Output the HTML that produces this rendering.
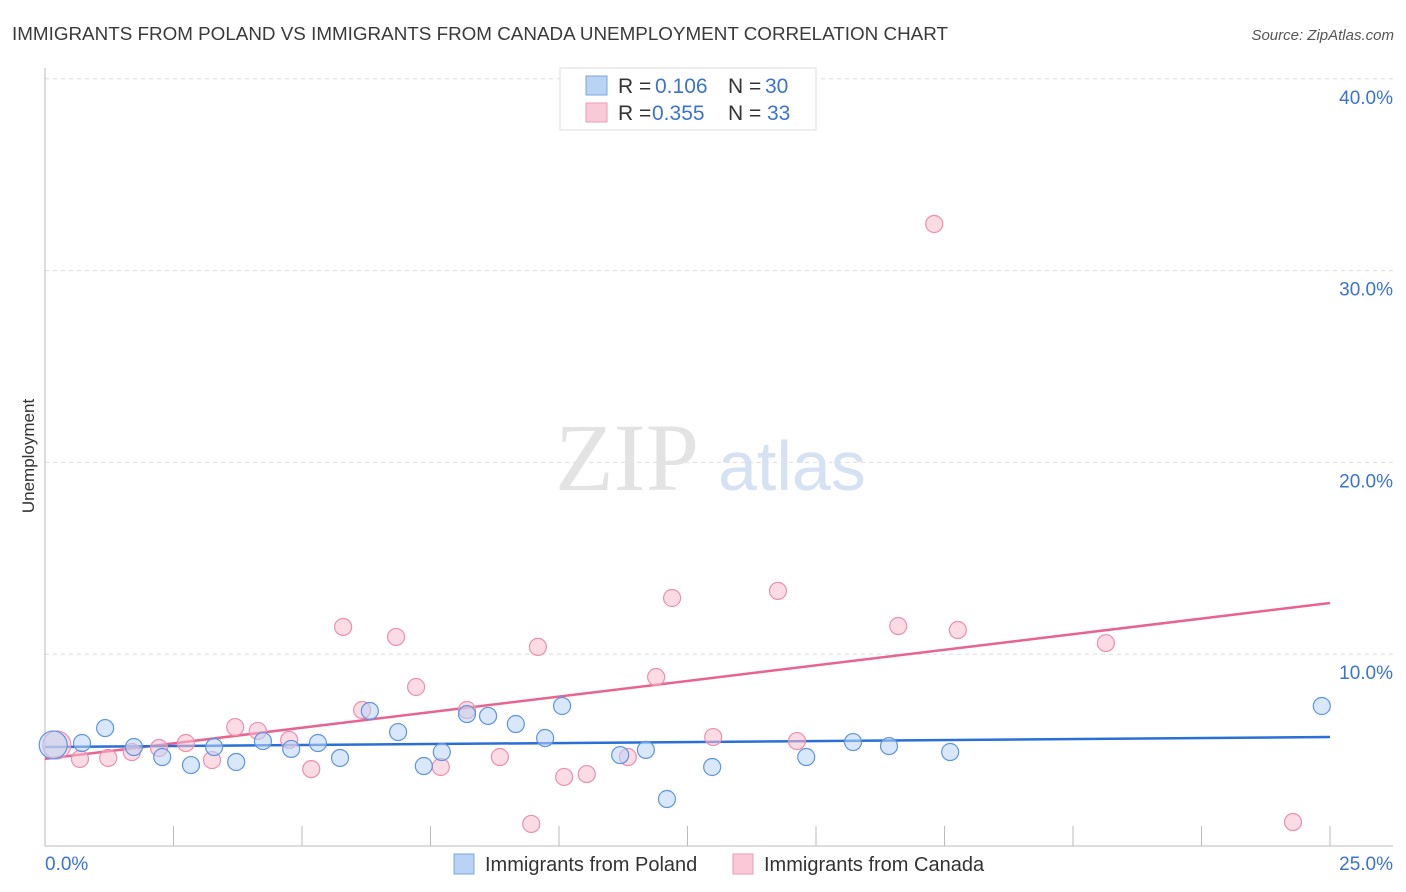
<!DOCTYPE html>
<html><head><meta charset="utf-8"><style>
body{margin:0;background:#fff;font-family:"Liberation Sans",sans-serif;}
svg{display:block}
</style></head><body>
<svg id="chart" width="1406" height="892" xmlns="http://www.w3.org/2000/svg">
<text x="12" y="40" font-size="18.5" fill="#3a3a3a" textLength="936" lengthAdjust="spacingAndGlyphs">IMMIGRANTS FROM POLAND VS IMMIGRANTS FROM CANADA UNEMPLOYMENT CORRELATION CHART</text>
<text x="1394" y="40" font-size="15" fill="#555" font-style="italic" text-anchor="end">Source: ZipAtlas.com</text>
<text x="34" y="456" font-size="17" fill="#333" text-anchor="middle" transform="rotate(-90 34 456)">Unemployment</text>
<g id="grid"></g>
<g id="ticks"></g>
<text x="555" y="490" font-size="96" fill="#e3e3e3" font-family="Liberation Serif,serif">ZIP</text>
<text x="718" y="490" font-size="70" fill="#d5e2f3">atlas</text>
<g id="lines"></g>
<g id="points"></g>
<g>
<rect x="560" y="68" width="256" height="62" fill="#fff" stroke="#ddd"/>
<rect x="586" y="76" width="21" height="19" fill="#b9d3f5" stroke="#7aa6e0"/>
<rect x="586" y="103" width="21" height="19" fill="#f9c9d7" stroke="#ee9ab5"/>
<text x="618" y="93" font-size="21" fill="#333">R =<tspan x="655" fill="#3b73d1">0.106</tspan><tspan x="728">N =</tspan><tspan x="765" fill="#3b73d1">30</tspan></text>
<text x="618" y="120" font-size="21" fill="#333">R =<tspan x="652" fill="#3b73d1">0.355</tspan><tspan x="728">N =</tspan><tspan x="767" fill="#3b73d1">33</tspan></text>
</g>
<g>
<rect x="454" y="854" width="20" height="20" fill="#b9d3f5" stroke="#7aa6e0"/>
<text x="485" y="871" font-size="20" fill="#333">Immigrants from Poland</text>
<rect x="733" y="854" width="20" height="20" fill="#f9c9d7" stroke="#ee9ab5"/>
<text x="764" y="871" font-size="20" fill="#333">Immigrants from Canada</text>
</g>
</svg>
<script>
const yTicks=[10,20,30,40];
const yTickLabels=["10.0%","20.0%","30.0%","40.0%"];
const xTickCount=[0,2.5,5,7.5,10,12.5,15,17.5,20,22.5,25];
const polandX=[0.16,0.72,1.17,1.73,2.28,2.84,3.29,3.72,4.24,4.79,5.31,5.74,6.32,6.87,7.37,7.72,8.21,8.62,9.16,9.73,10.06,11.19,11.69,12.10,12.98,14.81,15.72,16.42,17.61,24.84];
const polandY=[5.27,5.37,6.15,5.16,4.64,4.22,5.16,4.38,5.47,5.06,5.37,4.59,7.04,5.94,4.17,4.90,6.88,6.78,6.36,5.63,7.30,4.74,5.01,2.45,4.12,4.64,5.42,5.21,4.90,7.30];
const canadaX=[0.23,0.68,1.23,1.69,2.22,2.74,3.25,3.70,4.14,4.75,5.18,5.80,6.17,6.83,7.22,7.70,8.21,8.85,9.46,9.59,10.10,10.54,11.34,11.89,12.20,13.00,14.26,14.63,16.60,17.30,17.76,20.64,24.28];
const canadaY=[5.27,4.54,4.59,4.90,5.11,5.37,4.48,6.20,6.00,5.53,4.01,11.42,7.09,10.90,8.29,4.12,7.09,4.64,1.15,10.38,3.60,3.75,4.64,8.81,12.93,5.68,13.30,5.47,11.47,32.43,11.26,10.58,1.25];
const polandTrend=[5.16,5.68];
const canadaTrend=[4.54,12.67];
const NS="http://www.w3.org/2000/svg";
const xs=v=>45+v*51.4, ys=v=>846-v*19.18;
function mk(tag,attrs,parent){const e=document.createElementNS(NS,tag);for(const k in attrs)e.setAttribute(k,attrs[k]);document.getElementById(parent).appendChild(e);return e;}
yTicks.forEach((t,i)=>{
 const l=mk('line',{x1:45,x2:1393,y1:ys(t),y2:ys(t),stroke:'#ddd','stroke-dasharray':'4,4'},'grid');
 
 
 const tx=mk('text',{x:1393,y:ys(t)+25,'font-size':19,fill:'#3b73d1','text-anchor':'end'},'grid');
 tx.textContent=yTickLabels[i];
 
 
});
const ax=mk('line',{x1:45,x2:45,y1:68,y2:846,stroke:'#bbb'},'ticks');


const bx=mk('line',{x1:45,x2:1393,y1:846,y2:846,stroke:'#bbb'},'ticks');


xTickCount.forEach(t=>{const l=mk('line',{x1:xs(t),x2:xs(t),y1:826,y2:846,stroke:'#bbb'},'ticks');
 
 });
let t0=mk('text',{x:45,y:870,'font-size':19,fill:'#3b73d1'},'ticks');t0.textContent='0.0%';


let t1=mk('text',{x:1393,y:870,'font-size':19,fill:'#3b73d1','text-anchor':'end'},'ticks');t1.textContent='25.0%';


function pts(X,Y,fill,stroke,name){X.forEach((x,i)=>{const c=mk('circle',{cx:xs(x),cy:ys(Y[i]),r:i===0?14:8.5,fill:fill,'fill-opacity':0.55,stroke:stroke,'stroke-width':1.2},'points');
 
 });}
pts(canadaX,canadaY,'#f7bfd0','#ec8fae','point-canada');
pts(polandX,polandY,'#b9d3f5','#5d95e0','point-poland');
const lp=mk('line',{x1:xs(0),x2:xs(25),y1:ys(canadaTrend[0]),y2:ys(canadaTrend[1]),stroke:'#e8648e','stroke-width':2.5},'lines');


const lb=mk('line',{x1:xs(0),x2:xs(25),y1:ys(polandTrend[0]),y2:ys(polandTrend[1]),stroke:'#2a6fd6','stroke-width':2.5},'lines');


</script>
</body></html>
